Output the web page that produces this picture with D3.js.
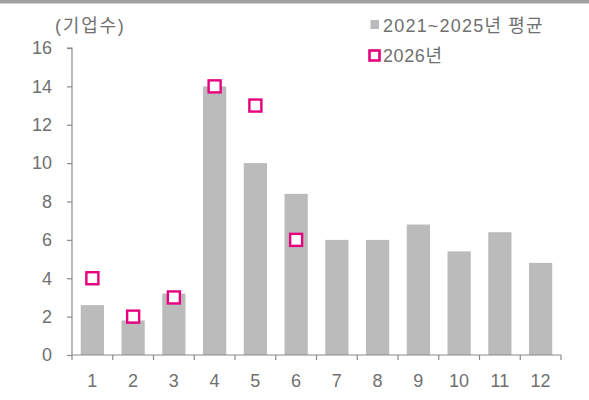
<!DOCTYPE html>
<html><head><meta charset="utf-8">
<script src="https://cdn.jsdelivr.net/npm/d3@7"></script>
<style>body{margin:0;background:#fff}svg{display:block}</style>
</head><body>
<svg id="c" width="589" height="400"></svg>
<script>
const months = ["1","2","3","4","5","6","7","8","9","10","11","12"];
const avg2125 = [2.6,1.8,3.2,14,10,8.4,6,6,6.8,5.4,6.4,4.8];
const y2026 = [4,2,3,14,13,6];
const yTicks = [0,2,4,6,8,10,12,14,16];
const seriesNames = ["2021~2025년 평균","2026년"];
const unitLabel = "(기업수)";

const svg = d3.select("#c");
const font = "'Liberation Sans', 'Noto Sans CJK KR', sans-serif";
const fs = 18;
const textColor = "#707070";
const axisColor = "#8a8a8a";

svg.append("rect").attr("x",0).attr("y",0).attr("width",589).attr("height",3.5).attr("fill","#a0a0a0");

const x = d3.scaleBand().domain(months).range([72,561]).paddingInner(0.43).paddingOuter(0.215);
const xb = d3.scaleBand().domain(months).range([72,561]);
const y = d3.scaleLinear().domain([0,16]).range([355,48]);

svg.append("g").selectAll("rect").data(avg2125).join("rect")
  .attr("x",(d,i)=>x(months[i])).attr("width",x.bandwidth())
  .attr("y",d=>y(d)).attr("height",d=>y(0)-y(d))
  .attr("fill","#bbbbbb");

// y axis
const ya = svg.append("g").attr("transform","translate(72,0)")
  .call(d3.axisLeft(y).tickValues(yTicks).tickSize(5).tickPadding(15));
ya.select(".domain").attr("stroke",axisColor).attr("stroke-width",1.2).attr("d","M-5,"+y(16)+"H0V"+y(0));
ya.selectAll(".tick line").attr("stroke",axisColor).attr("stroke-width",1.2);
ya.selectAll("text").attr("font-family",font).attr("font-size",fs).attr("fill",textColor);

// x axis
const xa = svg.append("g").attr("transform","translate(0,355)");
xa.append("line").attr("x1",72).attr("x2",561).attr("y1",0).attr("y2",0).attr("stroke",axisColor).attr("stroke-width",1.2);
xa.selectAll(".tk").data(months.concat(["end"])).join("line")
  .attr("x1",(d,i)=>i<12?xb(d):561).attr("x2",(d,i)=>i<12?xb(d):561)
  .attr("y1",0).attr("y2",5).attr("stroke",axisColor).attr("stroke-width",1.2);
xa.selectAll("text").data(months).join("text")
  .attr("x",d=>xb(d)+xb.bandwidth()/2).attr("y",32)
  .attr("text-anchor","middle").attr("font-family",font).attr("font-size",fs).attr("fill",textColor)
  .text(d=>d);

// markers
const ms = 12;
svg.append("g").selectAll("rect").data(y2026).join("rect")
  .attr("x",(d,i)=>xb(months[i])+xb.bandwidth()/2-ms/2)
  .attr("y",d=>y(d)-ms/2).attr("width",ms).attr("height",ms)
  .attr("fill","#fff").attr("stroke","#e6007e").attr("stroke-width",2.4);

// unit label
svg.append("text").attr("x",55).attr("y",32).attr("font-family",font).attr("font-size",fs).attr("letter-spacing",1.8).attr("fill",textColor).text(unitLabel);

// legend
svg.append("rect").attr("x",370.5).attr("y",20).attr("width",8.5).attr("height",9).attr("fill","#bbbbbb");
svg.append("text").attr("x",383).attr("y",31.5).attr("font-family",font).attr("font-size",fs).attr("letter-spacing",1.2).attr("fill",textColor).text(seriesNames[0]);
svg.append("rect").attr("x",369.5).attr("y",50.5).attr("width",10).attr("height",10).attr("fill","#fff").attr("stroke","#e6007e").attr("stroke-width",2.6);
svg.append("text").attr("x",383).attr("y",62).attr("font-family",font).attr("font-size",fs).attr("letter-spacing",0.6).attr("fill",textColor).text(seriesNames[1]);
</script>
</body></html>
